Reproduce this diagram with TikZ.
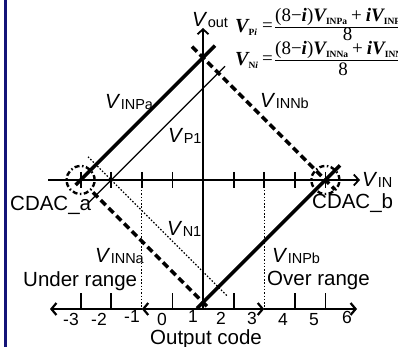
\documentclass[tikz,border=0pt]{standalone}
\usepackage{fontspec}
\setmainfont{Liberation Sans}
\newfontfamily\eqf{Liberation Serif}
\usetikzlibrary{arrows.meta}
\definecolor{navy}{RGB}{20,20,120}
\newcommand{\Vsub}[1]{\textit{V}\kern0.3pt\raisebox{-1pt}{\fontsize{14.5}{14.5}\selectfont #1}}
\newcommand{\Esub}[1]{\raisebox{-2.5pt}{\fontsize{9.5}{9.5}\selectfont\bfseries #1}}
\newcommand{\bvar}[1]{{\bfseries\itshape #1}}
\begin{document}
\begin{tikzpicture}[x=1pt,y=-1pt,
  thickline/.style={line width=3.6pt},
  thickdash/.style={line width=3.6pt, dash pattern=on 7pt off 4pt},
  thinline/.style={line width=1.2pt},
  dotline/.style={line width=1.2pt, dash pattern=on 1.5pt off 1.8pt},
  axis/.style={line width=1.5pt},
  baxis/.style={line width=2.4pt},
  tickmark/.style={line width=1.8pt},
  tip/.style={-{Straight Barb[length=5pt,width=11pt,line width=1.8pt]}},
  btip/.style={-{Straight Barb[length=5pt,width=12pt,line width=2.2pt]}},
  lbl/.style={anchor=base west, inner sep=0pt, font=\fontsize{20.5}{20.5}\selectfont},
  numlbl/.style={anchor=base, inner sep=0pt, font=\fontsize{17.5}{17.5}\selectfont},
  circ/.style={line width=2.4pt, dash pattern=on 5pt off 2.5pt on 1.5pt off 2.5pt},
  eq/.style={anchor=base west, inner sep=0pt, font=\eqf\fontsize{19}{19}\selectfont},
]
\useasboundingbox (0,0) rectangle (398,347);
\clip (0,0) rectangle (398,347);
\fill[white] (0,0) rectangle (398,347);
\fill[navy] (3.5,0) rectangle (7,347);

% key points
\coordinate (Ca) at (80.6,180);
\coordinate (Cb) at (325.4,180);

% axes
\draw[axis,tip] (48,180) -- (360,180);
\draw[axis,tip] (203,309) -- (203,28);
\foreach \k in {-4,-3,-2,-1,1,2,3,4}
  \draw[tickmark] ({203+30.6*\k},172) -- ++(0,16);

% dotted range limits
\draw[dotline] (141.8,180) -- (141.8,309);
\draw[dotline] (264.2,180) -- (264.2,309);

% output code axis
\foreach \k in {-4,-3,-1,1,3,4}
  \draw[tickmark] ({203+30.6*\k},293) -- ++(0,16);
\draw[baxis,btip] (141.8,309) -- (50,309);
\draw[baxis,btip] (264.2,309) -- (357,309);
\draw[baxis,btip] (203,309) -- (141.8,309);
\draw[baxis,btip] (203,309) -- (264.2,309);

% transfer lines
\draw[thinline] (88,203.2) -- (225,66.2);
\draw[dotline] (88,156.8) -- (228,296.8);
\draw[thickline] (75.6,185) -- (215,45.6);
\draw[thickdash] (192,46.6) -- (335,189.6);
\draw[thickdash] (93,192.4) -- (208,307.4);
\draw[thickline] (197,308.4) -- (340,165.4);

% circles
\draw[circ] (Ca) circle[radius=14pt];
\draw[circ] (Cb) circle[radius=14pt];

% labels
\node[lbl] (vout) at (192,27) {\Vsub{out}};
\node[lbl] (vinpa) at (105,109) {\Vsub{INPa}};
\node[lbl] (vp1) at (168,143) {\Vsub{P1}};
\node[lbl] (vinnb) at (260,108) {\Vsub{INNb}};
\node[lbl] (vin) at (362,186) {\Vsub{IN}};
\node[lbl] (cdaca) at (10,210) {CDAC\_a};
\node[lbl] (cdacb) at (312,208) {CDAC\_b};
\node[lbl] (vn1) at (167,235) {\Vsub{N1}};
\node[lbl] (vinna) at (95,262) {\Vsub{INNa}};
\node[lbl] (vinpb) at (272,262) {\Vsub{INPb}};
\node[lbl] (under) at (23,286) {Under range};
\node[lbl] (over) at (267,285) {Over range};
\node[lbl] (oc) at (150,344.5) {Output code};

% output code numbers
\node[numlbl] (n-3) at (71,325.5) {-3};
\node[numlbl] (n-2) at (99,325.5) {-2};
\node[numlbl] (n-1) at (132,322.5) {-1};
\node[numlbl] (n0) at (162,325) {0};
\node[numlbl] (n1) at (193,322.5) {1};
\node[numlbl] (n2) at (221,324) {2};
\node[numlbl] (n3) at (252,324) {3};
\node[numlbl] (n4) at (283,325.5) {4};
\node[numlbl] (n5) at (314,325.5) {5};
\node[numlbl] (n6) at (347,323.5) {6};

% equations
\node[eq,font=\eqf\fontsize{20}{20}\selectfont] (vpi) at (235,33) {\bvar{V}\Esub{P\textit{i}}};
\node[eq] (eq1) at (262,32) {=};
\node[eq] (num1) at (275,22) {(8−\bvar{i})\bvar{V}\Esub{INPa}\kern4pt+\kern4pt\bvar{iV}\Esub{INPb}};
\draw[line width=0.9pt] (275,27) -- (400,27);
\node[eq,anchor=base] (den1) at (347.5,41) {8};
\node[eq,font=\eqf\fontsize{20}{20}\selectfont] (vni) at (235,66) {\bvar{V}\Esub{N\textit{i}}};
\node[eq] (eq2) at (262,65) {=};
\node[eq] (num2) at (275,55) {(8−\bvar{i})\bvar{V}\Esub{INNa}\kern4pt+\kern4pt\bvar{iV}\Esub{INNb}};
\draw[line width=0.9pt] (275,60) -- (400,60);
\node[eq,anchor=base] (den2) at (343,76) {8};
\end{tikzpicture}
\end{document}
